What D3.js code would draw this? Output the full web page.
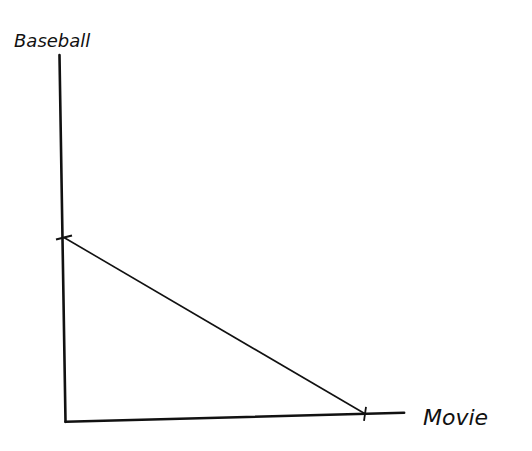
<!DOCTYPE html>
<html lang="en">
  <head>
    <meta charset="utf-8">
    <title>Budget line</title>
    <script src="https://d3js.org/d3.v7.min.js"></script>
    <style>
      body { margin: 0; background: #fff; }
      .sketch text { font-family: "DejaVu Sans", sans-serif; fill: #111; font-style: italic; }
    </style>
  </head>
  <body>
    <div id="chart"></div>
    <script>
      "use strict"
      // hand drawn axes, in data units (slightly crooked like the pen drawing)
      var axisY = [{movie: -0.15, baseball: 10}, {movie: 0.05, baseball: -0.05}];
      var axisX = [{movie: 0.05, baseball: -0.05}, {movie: 11.3, baseball: 0.2}];
      // budget line: all money on baseball -> all money on movies
      var budget = [{movie: 0, baseball: 5}, {movie: 10, baseball: 0.17}];
      var labels = {x: "Movie", y: "Baseball"};

      var largura = 532, altura = 451;
      var svg = d3.select('#chart').append('svg')
          .attr('class', 'sketch')
          .attr('width', largura)
          .attr('height', altura);

      var x = d3.scaleLinear().domain([0, 10]).range([64, 365]);
      var y = d3.scaleLinear().domain([0, 10]).range([420, 55]);

      var linha = d3.line().x(d => x(d.movie)).y(d => y(d.baseball));

      svg.append('path').datum(axisY)
          .attr('d', linha).attr('fill', 'none')
          .attr('stroke', '#111').attr('stroke-width', 2.6).attr('stroke-linecap', 'round');
      svg.append('path').datum(axisX)
          .attr('d', linha).attr('fill', 'none')
          .attr('stroke', '#111').attr('stroke-width', 2.6).attr('stroke-linecap', 'round');

      svg.append('path').datum(budget)
          .attr('d', linha).attr('fill', 'none')
          .attr('stroke', '#111').attr('stroke-width', 1.6);

      // tick marks where the budget line meets the axes
      svg.selectAll('.tickY').data(budget.filter(d => d.movie === 0)).enter()
        .append('line')
          .attr('x1', d => x(d.movie) - 8).attr('x2', d => x(d.movie) + 8)
          .attr('y1', d => y(d.baseball) + 2).attr('y2', d => y(d.baseball) - 2)
          .attr('stroke', '#111').attr('stroke-width', 2.2);
      svg.selectAll('.tickX').data(budget.filter(d => d.movie === 10)).enter()
        .append('line')
          .attr('x1', d => x(d.movie) + 1).attr('x2', d => x(d.movie) - 1)
          .attr('y1', d => y(d.baseball) - 7).attr('y2', d => y(d.baseball) + 7)
          .attr('stroke', '#111').attr('stroke-width', 1.8);

      svg.append('text')
          .attr('x', 14).attr('y', 47)
          .attr('font-size', 18)
          .text(labels.y);
      svg.append('text')
          .attr('x', 423).attr('y', 425)
          .attr('font-size', 22)
          .text(labels.x);
    </script>
  </body>
</html>
